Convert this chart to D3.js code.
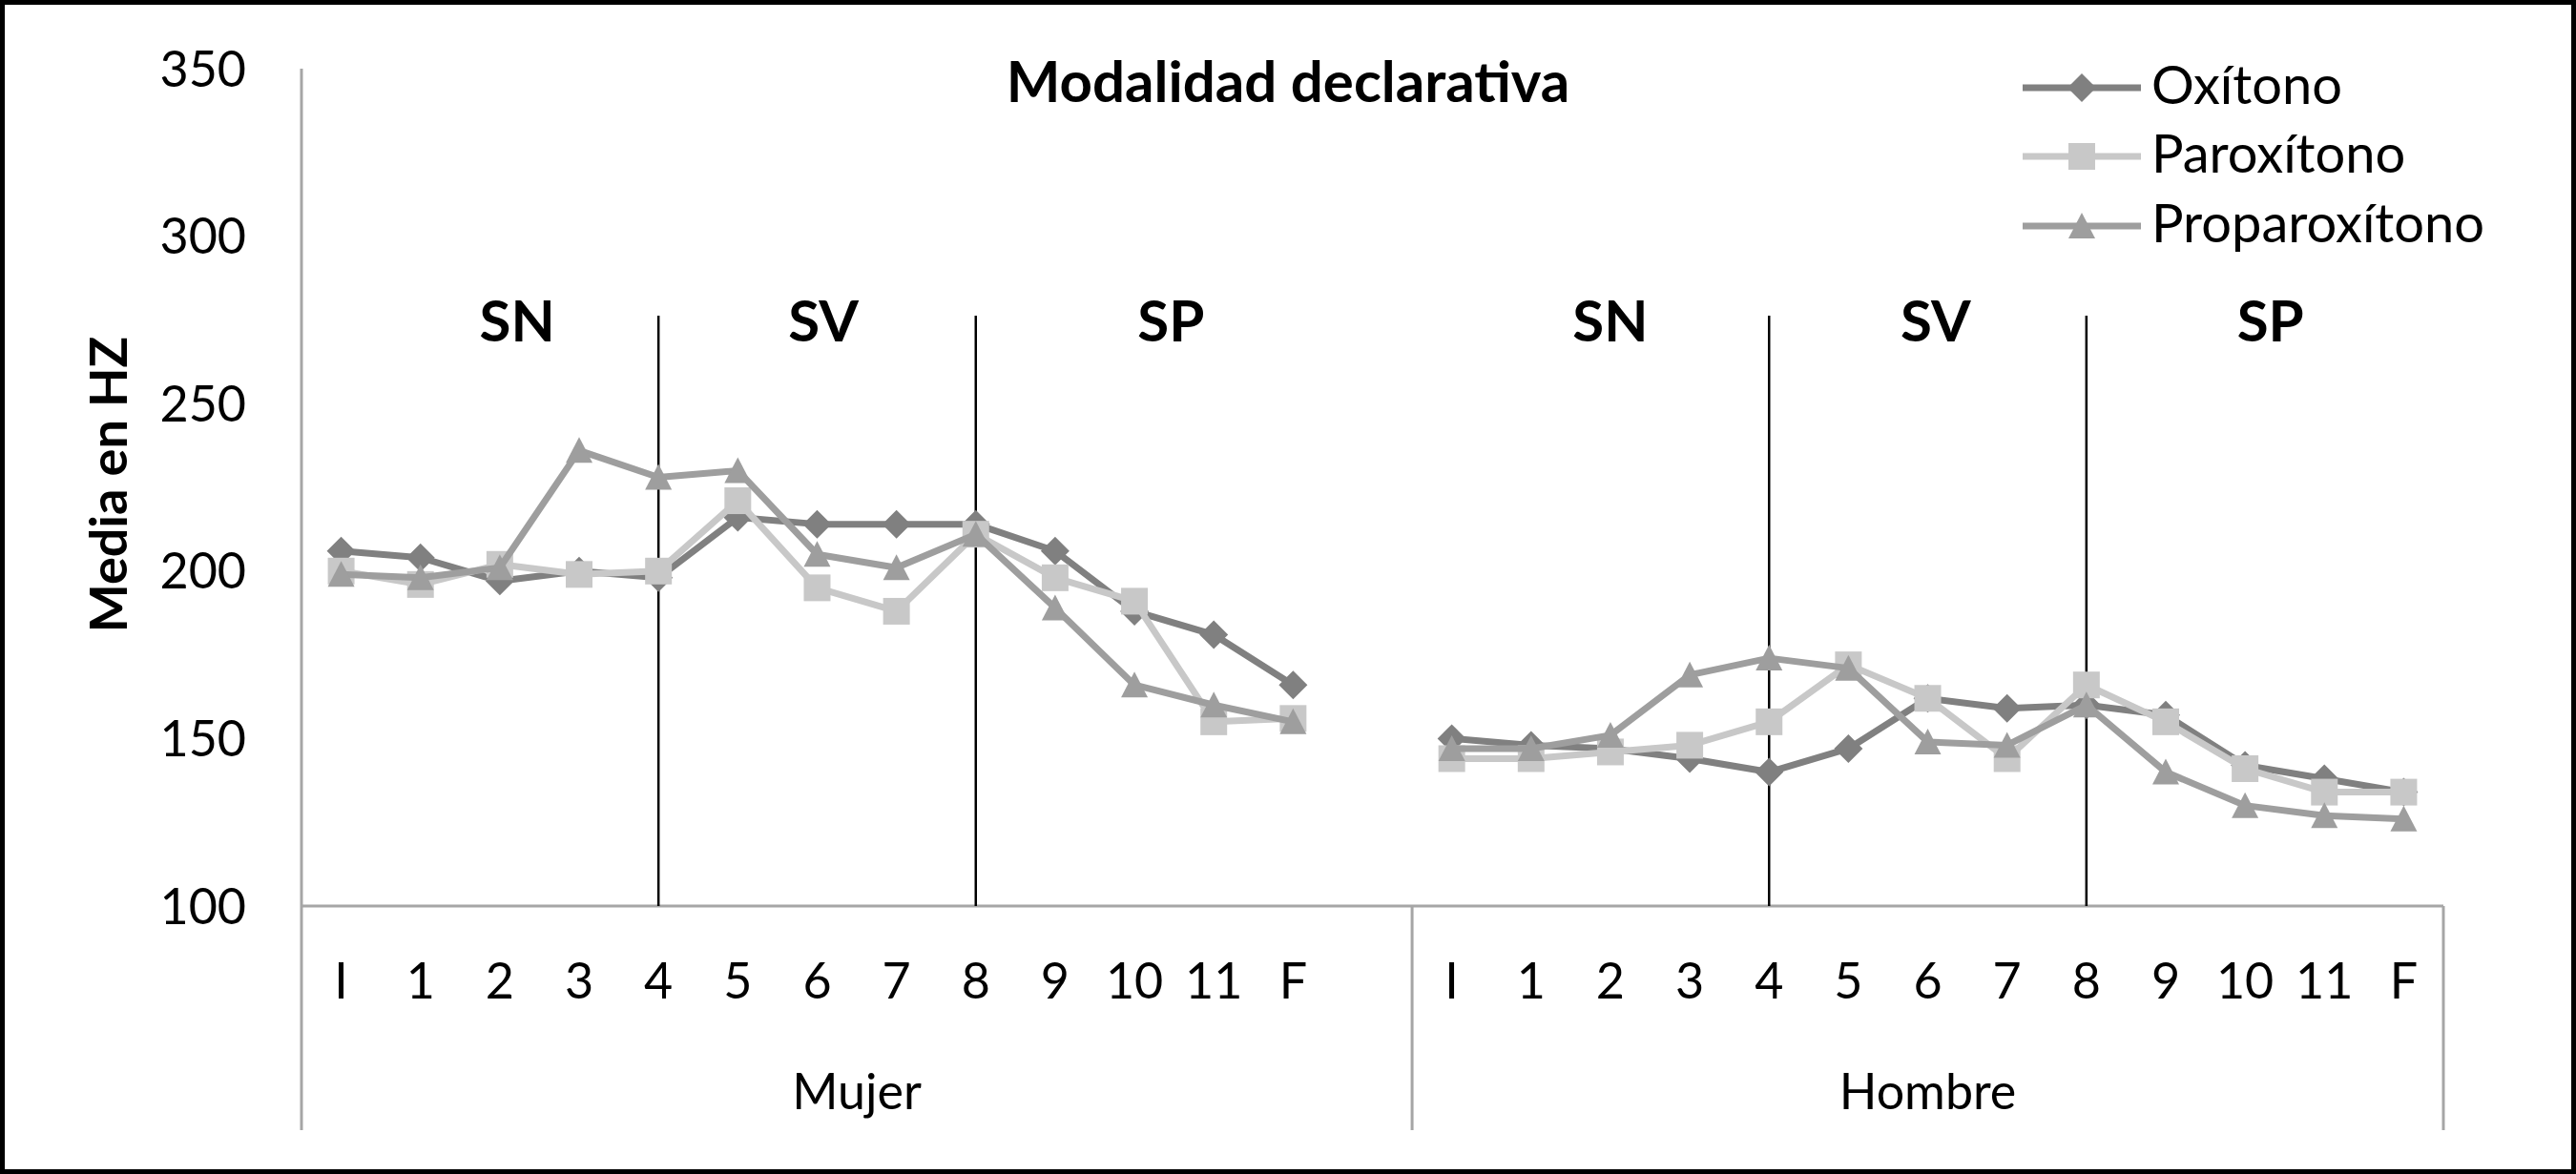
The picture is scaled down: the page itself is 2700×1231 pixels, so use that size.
<!DOCTYPE html>
<html>
<head>
<meta charset="utf-8">
<script src="https://cdn.jsdelivr.net/npm/d3@7"></script>
<style>
  body { margin: 0; background: #fff; }
  text { font-family: Lato, "Open Sans", sans-serif; fill: #000; }
</style>
</head>
<body>
<div id="chart"></div>
<script>
// categories
const groups = ["Mujer", "Hombre"];
const positions = ["I", "1", "2", "3", "4", "5", "6", "7", "8", "9", "10", "11", "F"];
const yTicks = [100, 150, 200, 250, 300, 350];
const seriesNames = ["Oxítono", "Paroxítono", "Proparoxítono"];
const phrases = ["SN", "SV", "SP"];
const boundaries = ["4", "8"];

// values (Hz)
const oxitonoMujer       = [206, 204, 197, 200, 198, 216, 214, 214, 214, 206, 188, 181, 166];
const paroxitonoMujer    = [200, 196, 202, 199, 200, 221, 195, 188, 211, 198, 191, 155, 156];
const proparoxitonoMujer = [199, 198, 201, 236, 228, 230, 205, 201, 211, 189, 166, 160, 155];
const oxitonoHombre       = [150, 148, 147, 144, 140, 147, 162, 159, 160, 157, 142, 138, 134];
const paroxitonoHombre    = [144, 144, 146, 148, 155, 172, 162, 144, 166, 155, 141, 134, 134];
const proparoxitonoHombre = [147, 147, 151, 169, 174, 171, 149, 148, 160, 140, 130, 127, 126];

const W = 2700, H = 1231;
const colors = ["#808080", "#C8C8C8", "#9E9E9E"];
const shapes = ["diamond", "square", "triangle"];

const seriesData = [
  [oxitonoMujer, oxitonoHombre],
  [paroxitonoMujer, paroxitonoHombre],
  [proparoxitonoMujer, proparoxitonoHombre]
];

// Mujer has an empty slot after F, like the original sheet
let keys = [];
groups.forEach(function(g, gi) {
  positions.forEach(function(p) { keys.push(g + "|" + p); });
  if (gi == 0) keys.push(g + "|gap");
});

const x = d3.scaleBand().domain(keys).range([316, 2561]).padding(0);
const y = d3.scaleLinear().domain([100, 350]).range([950, 72]);
const cx = function(g, p) { return x(g + "|" + p) + x.bandwidth() / 2; };

const svg = d3.select("#chart").append("svg")
  .attr("width", W)
  .attr("height", H);

svg.append("rect")
  .attr("x", 2.5).attr("y", 2.5)
  .attr("width", W - 5).attr("height", H - 5)
  .attr("fill", "#fff")
  .attr("stroke", "#000")
  .attr("stroke-width", 5);

// title
svg.append("text")
  .attr("x", 1350).attr("y", 107)
  .attr("text-anchor", "middle")
  .attr("font-weight", "bold")
  .attr("font-size", 60)
  .text("Modalidad declarativa");

// y axis
const yAxis = svg.append("g")
  .attr("transform", "translate(316,0)")
  .call(d3.axisLeft(y).tickValues(yTicks).tickSize(0).tickPadding(58));
yAxis.select(".domain").remove();
yAxis.selectAll("text")
  .attr("font-family", "Lato, 'Open Sans', sans-serif")
  .attr("font-size", 52)
  .attr("fill", "#000")
  .attr("dy", 18);

svg.append("text")
  .attr("transform", "translate(133,508) rotate(-90)")
  .attr("text-anchor", "middle")
  .attr("font-weight", "bold")
  .attr("font-size", 54)
  .text("Media en HZ");

// axis lines
const axisColor = "#A6A6A6";
svg.append("line")
  .attr("x1", x.range()[0]).attr("x2", x.range()[0])
  .attr("y1", y(350)).attr("y2", 1185)
  .attr("stroke", axisColor).attr("stroke-width", 3);
svg.append("line")
  .attr("x1", x.range()[0]).attr("x2", x.range()[1])
  .attr("y1", y(100)).attr("y2", y(100))
  .attr("stroke", axisColor).attr("stroke-width", 3);
[x("Hombre|I"), x.range()[1]].forEach(function(xx) {
  svg.append("line")
    .attr("x1", xx).attr("x2", xx)
    .attr("y1", y(100)).attr("y2", 1185)
    .attr("stroke", axisColor).attr("stroke-width", 3);
});

// category labels
groups.forEach(function(g) {
  svg.selectAll(null)
    .data(positions)
    .enter()
    .append("text")
    .attr("x", function(p) { return cx(g, p); })
    .attr("y", 1047)
    .attr("text-anchor", "middle")
    .attr("font-size", 52)
    .text(function(p) { return p; });

  let first = x(g + "|I");
  let last = g == "Mujer" ? x("Hombre|I") : x.range()[1];
  svg.append("text")
    .attr("x", (first + last) / 2)
    .attr("y", 1163)
    .attr("text-anchor", "middle")
    .attr("font-size", 52)
    .text(g);
});

// phrase boundaries
groups.forEach(function(g) {
  boundaries.forEach(function(b) {
    svg.append("line")
      .attr("x1", cx(g, b)).attr("x2", cx(g, b))
      .attr("y1", 331).attr("y2", y(100))
      .attr("stroke", "#000").attr("stroke-width", 2.5);
  });
});

// phrase labels: placed over positions 2, 6, 10 of each group
const phraseAt = ["2", "6", "10"];
const phraseShift = { "Mujer": [0.22, 0.08, 0.46], "Hombre": [0.0, 0.1, 0.32] };
groups.forEach(function(g) {
  phrases.forEach(function(ph, i) {
    svg.append("text")
      .attr("x", cx(g, phraseAt[i]) + phraseShift[g][i] * x.bandwidth())
      .attr("y", 358)
      .attr("text-anchor", "middle")
      .attr("font-weight", "bold")
      .attr("font-size", 60)
      .text(ph);
  });
});

function marker(shape) {
  if (shape == "diamond") return "M0,-15L15,0L0,15L-15,0Z";
  if (shape == "square") return "M-14,-14H14V14H-14Z";
  return "M0,-14L14,13H-14Z";
}

// series
const line = d3.line()
  .x(function(d) { return d.x; })
  .y(function(d) { return y(d.v); });

seriesData.forEach(function(s, si) {
  let gSeries = svg.append("g");
  s.forEach(function(vals, gi) {
    let pts = vals.map(function(v, i) {
      return { x: cx(groups[gi], positions[i]), v: v };
    });
    gSeries.append("path")
      .datum(pts)
      .attr("d", line)
      .attr("fill", "none")
      .attr("stroke", colors[si])
      .attr("stroke-width", 7)
      .attr("stroke-linejoin", "round");
    gSeries.selectAll(null)
      .data(pts)
      .enter()
      .append("path")
      .attr("transform", function(d) { return "translate(" + d.x + "," + y(d.v) + ")"; })
      .attr("d", marker(shapes[si]))
      .attr("fill", colors[si]);
  });
});

// legend
const legendRows = [92, 164, 237];
seriesNames.forEach(function(name, i) {
  svg.append("line")
    .attr("x1", 2120).attr("x2", 2244)
    .attr("y1", legendRows[i]).attr("y2", legendRows[i])
    .attr("stroke", colors[i]).attr("stroke-width", 7);
  svg.append("path")
    .attr("transform", "translate(2182," + legendRows[i] + ")")
    .attr("d", marker(shapes[i]))
    .attr("fill", colors[i]);
  svg.append("text")
    .attr("x", 2255)
    .attr("y", legendRows[i] + 17)
    .attr("font-size", 56)
    .text(name);
});
</script>
</body>
</html>
